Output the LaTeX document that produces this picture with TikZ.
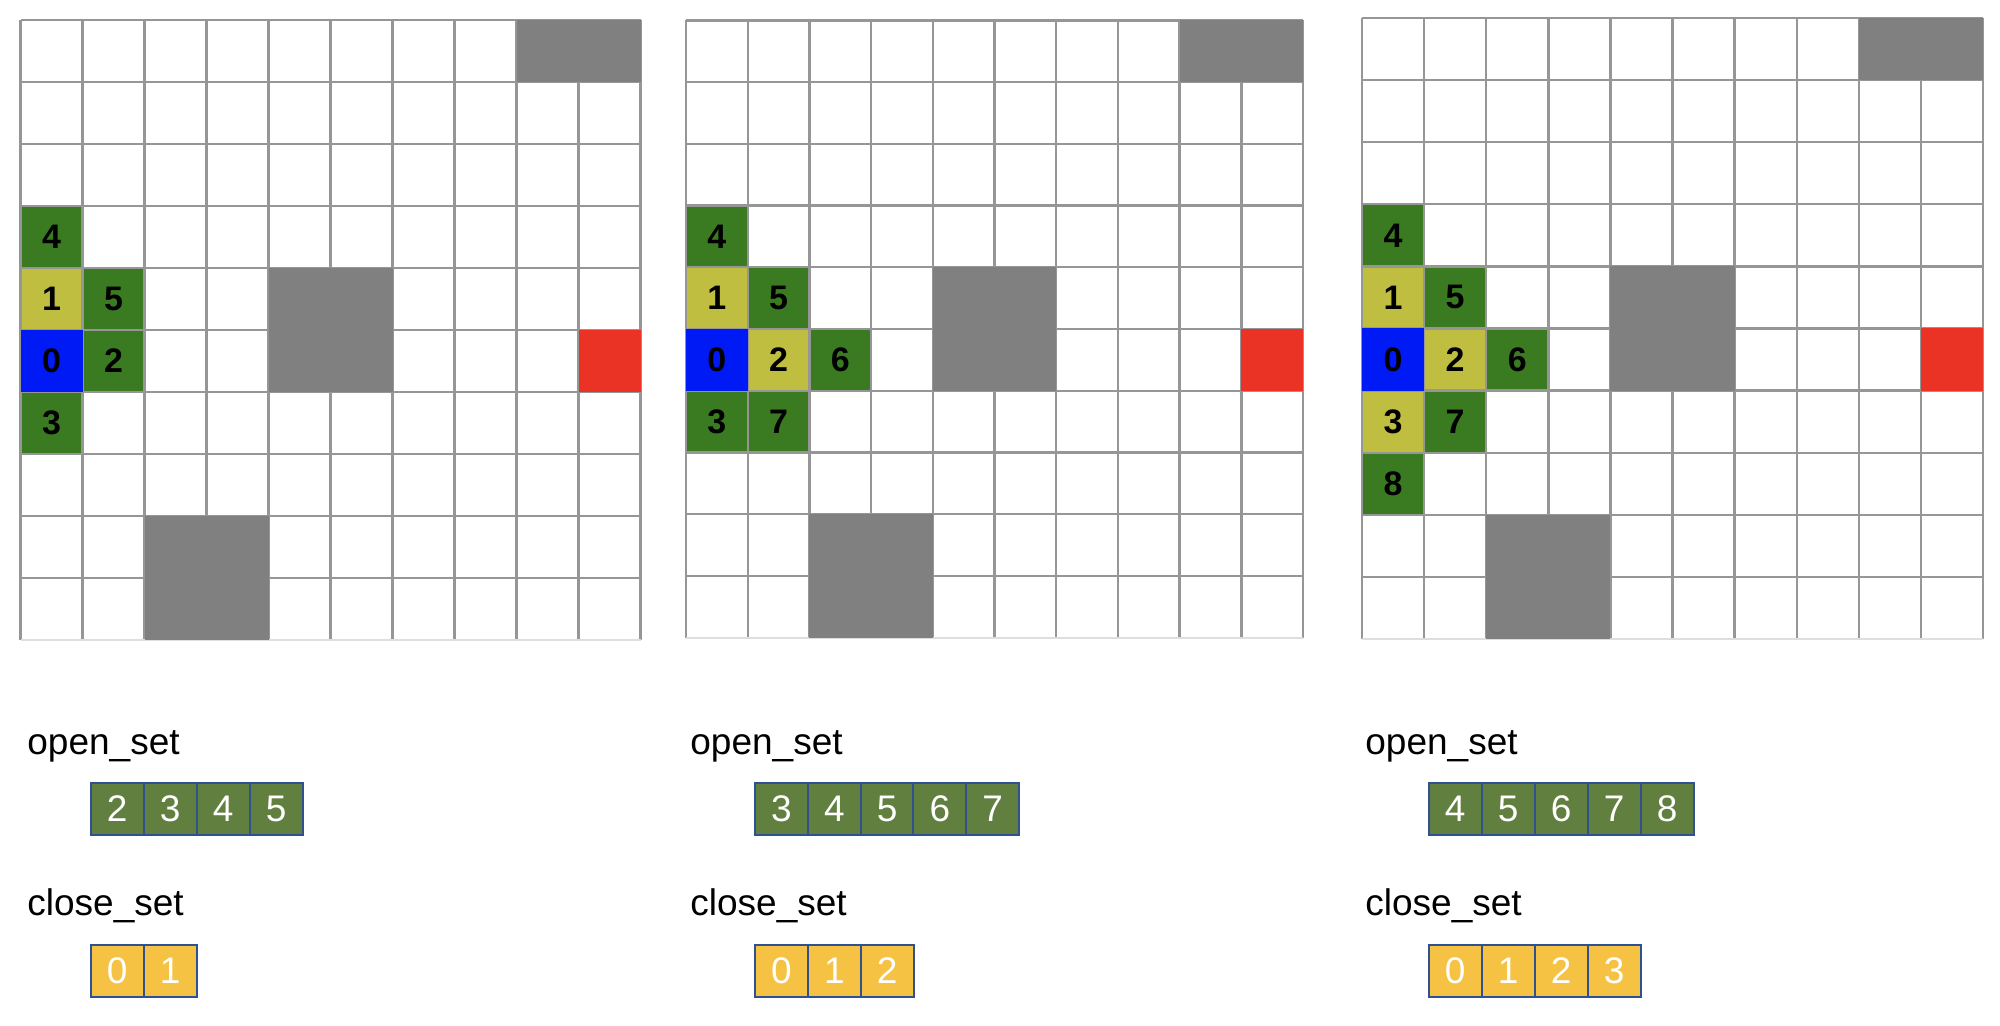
\documentclass[tikz,border=0pt]{standalone}
\usepackage{fontspec}
\setmainfont{Liberation Sans}
\definecolor{cellgreen}{RGB}{58,123,34}
\definecolor{cellyellow}{RGB}{192,190,64}
\definecolor{cellblue}{RGB}{0,26,245}
\definecolor{cellred}{RGB}{234,51,36}
\definecolor{obstgray}{RGB}{128,128,128}
\definecolor{linegray}{RGB}{150,150,150}
\definecolor{faintgray}{RGB}{222,222,222}
\definecolor{boxgreen}{RGB}{97,128,63}
\definecolor{boxyellow}{RGB}{246,194,67}
\definecolor{boxborder}{RGB}{47,80,145}
\newcommand\gx{0}
\newcommand\gy{0}
\newcommand\cs{62}
% grid lines of one panel
\newcommand\gridlines{%
  \foreach \k in {0,...,10} {
    \draw[gridline] ({\gx+\k*\cs},\gy) -- ({\gx+\k*\cs},{\gy+10*\cs});
  }
  \foreach \k in {0,...,9} {
    \draw[gridline] (\gx,{\gy+\k*\cs}) -- ({\gx+10*\cs},{\gy+\k*\cs});
  }
  \draw[faintline] (\gx,{\gy+10*\cs}) -- ({\gx+10*\cs},{\gy+10*\cs});
}
% cell: #1 name, #2 col, #3 row, #4 colour, #5 text
\newcommand\gcell[5]{%
  \node[gridcell, fill=#4, minimum size={\cs*0.5pt}] (#1) at ({\gx+(#2+0.5)*\cs},{\gy+(#3+0.5)*\cs}) {#5};
}
% rectangle block: #1 col, #2 row, #3 ncols, #4 nrows, #5 colour
\newcommand\gblock[5]{%
  \fill[#5] ({\gx+#1*\cs},{\gy+#2*\cs}) rectangle ({\gx+(#1+#3)*\cs},{\gy+(#2+#4)*\cs});
}
\begin{document}
\begin{tikzpicture}[x=0.5pt,y=-0.5pt,
  gridline/.style={draw=linegray, line width=1.2pt},
  faintline/.style={draw=faintgray, line width=1pt},
  gridcell/.style={inner sep=0pt, outer sep=0pt, font=\fontsize{17}{20}\selectfont\bfseries, text=black},
  setlabel/.style={anchor=base west, inner sep=0pt, font=\fontsize{18.5}{22}\selectfont},
  openbox/.style={draw=boxborder, line width=1pt, fill=boxgreen, text=white, inner sep=0pt,
    minimum width=26.5pt, minimum height=26pt, font=\fontsize{18.5}{22}\selectfont},
  closebox/.style={openbox, fill=boxyellow}]
\useasboundingbox (0,0) rectangle (2000,1026);
\fill[white] (0,0) rectangle (2000,1026);

% ---------------- panel 1 ----------------
\renewcommand\gx{20.5}\renewcommand\gy{20}\renewcommand\cs{62}
\gcell{a4}{0}{3}{cellgreen}{4}
\gcell{a1}{0}{4}{cellyellow}{1}
\gcell{a5}{1}{4}{cellgreen}{5}
\gcell{a2}{1}{5}{cellgreen}{2}
\gcell{a3}{0}{6}{cellgreen}{3}
\gridlines
\gblock{8}{0}{2}{1}{obstgray}
\gblock{4}{4}{2}{2}{obstgray}
\gblock{2}{8}{2}{2}{obstgray}
\gblock{9}{5}{1}{1}{cellred}
\gcell{a0}{0}{5}{cellblue}{0}

\node[setlabel] (aopen) at (27,754) {open\_set};
\node[setlabel] (aclose) at (27,915) {close\_set};
\foreach \v [count=\i from 0] in {2,3,4,5}
  \node[openbox] (ao\i) at ({90.7+26.5+\i*53},809) {\v};
\foreach \v [count=\i from 0] in {0,1}
  \node[closebox] (ac\i) at ({90.7+26.5+\i*53},971) {\v};

% ---------------- panel 2 ----------------
\renewcommand\gx{686}\renewcommand\gy{20.5}\renewcommand\cs{61.7}
\gcell{b4}{0}{3}{cellgreen}{4}
\gcell{b1}{0}{4}{cellyellow}{1}
\gcell{b5}{1}{4}{cellgreen}{5}
\gcell{b2}{1}{5}{cellyellow}{2}
\gcell{b6}{2}{5}{cellgreen}{6}
\gcell{b3}{0}{6}{cellgreen}{3}
\gcell{b7}{1}{6}{cellgreen}{7}
\gridlines
\gblock{8}{0}{2}{1}{obstgray}
\gblock{4}{4}{2}{2}{obstgray}
\gblock{2}{8}{2}{2}{obstgray}
\gblock{9}{5}{1}{1}{cellred}
\gcell{b0}{0}{5}{cellblue}{0}

\node[setlabel] (bopen) at (690,754) {open\_set};
\node[setlabel] (bclose) at (690,915) {close\_set};
\foreach \v [count=\i from 0] in {3,4,5,6,7}
  \node[openbox] (bo\i) at ({755+26.5+\i*52.8},809) {\v};
\foreach \v [count=\i from 0] in {0,1,2}
  \node[closebox] (bc\i) at ({755+26.5+\i*52.8},971) {\v};

% ---------------- panel 3 ----------------
\renewcommand\gx{1362}\renewcommand\gy{18}\renewcommand\cs{62.1}
\gcell{c4}{0}{3}{cellgreen}{4}
\gcell{c1}{0}{4}{cellyellow}{1}
\gcell{c5}{1}{4}{cellgreen}{5}
\gcell{c2}{1}{5}{cellyellow}{2}
\gcell{c6}{2}{5}{cellgreen}{6}
\gcell{c3}{0}{6}{cellyellow}{3}
\gcell{c7}{1}{6}{cellgreen}{7}
\gcell{c8}{0}{7}{cellgreen}{8}
\gridlines
\gblock{8}{0}{2}{1}{obstgray}
\gblock{4}{4}{2}{2}{obstgray}
\gblock{2}{8}{2}{2}{obstgray}
\gblock{9}{5}{1}{1}{cellred}
\gcell{c0}{0}{5}{cellblue}{0}

\node[setlabel] (copen) at (1365,754) {open\_set};
\node[setlabel] (cclose) at (1365,915) {close\_set};
\foreach \v [count=\i from 0] in {4,5,6,7,8}
  \node[openbox] (co\i) at ({1428.7+26.5+\i*53},809) {\v};
\foreach \v [count=\i from 0] in {0,1,2,3}
  \node[closebox] (cc\i) at ({1428.7+26.5+\i*53},971) {\v};
\end{tikzpicture}
\end{document}
